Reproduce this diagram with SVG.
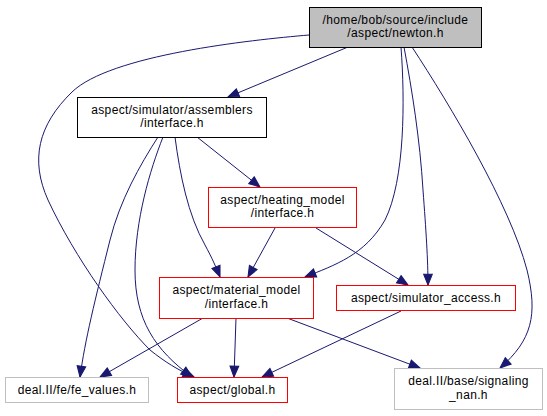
<svg xmlns="http://www.w3.org/2000/svg" width="547" height="416" viewBox="0 0 547 416">
<style>
.n rect{stroke-width:1}
.root rect{fill:#bfbfbf;stroke:#000}
.blk rect{fill:#fff;stroke:#000}
.red rect{fill:#fff;stroke:#ff0000}
.gry rect{fill:#fff;stroke:#bfbfbf}
text{font-family:"Liberation Sans",Arial,sans-serif;font-size:12px;letter-spacing:0.35px;text-anchor:middle;fill:#000}
.e path{fill:none;stroke:#191970;stroke-width:1;marker-end:url(#ah)}
</style>
<defs>
<marker id="ah" markerUnits="userSpaceOnUse" markerWidth="13" markerHeight="11" viewBox="-1 -5 12 10" refX="10" refY="0" orient="auto">
<path d="M0,-4 L10,0 L0,4 z" fill="#191970" stroke="#191970" stroke-width="1"/>
</marker>
</defs>
<g id="edges" class="e">
<path d="M348,47 L228,97"/>
<path d="M309,35 C250,40 110,55 72,92 C38,125 30,160 48,200 C75,258 120,320 150,350 C165,362 178,370 194,377"/>
<path d="M401,47 C405,100 405,180 385,220 C365,255 335,265 305,277"/>
<path d="M404,47 C412,90 420,140 423,190 C426,230 428,260 428,285"/>
<path d="M412,47 C450,105 510,205 527,270 C538,315 532,340 500,368"/>
<path d="M158,137 C140,165 120,200 110,240 C95,300 85,340 80,377"/>
<path d="M163,137 C150,170 135,220 135,270 C135,320 155,350 192,377"/>
<path d="M175,137 C180,175 188,215 205,245 C212,258 216,267 220,277"/>
<path d="M197,137 L260,187"/>
<path d="M275,228 L248,277"/>
<path d="M316,228 L408,285"/>
<path d="M203,318 L100,377"/>
<path d="M236,318 L234,377"/>
<path d="M287,318 L420,368"/>
<path d="M401,311 L262,377"/>
</g>
<g id="newton" class="n root"><rect x="309.5" y="7.5" width="172" height="40"/><text x="395.5" y="23.5">/home/bob/source/include</text><text x="395.5" y="37">/aspect/newton.h</text></g>
<g id="assemblers" class="n blk"><rect x="77.5" y="97.5" width="189" height="40"/><text x="172" y="113.5">aspect/simulator/assemblers</text><text x="172" y="127">/interface.h</text></g>
<g id="heating_model" class="n red"><rect x="208.5" y="187.5" width="148" height="40"/><text x="282.5" y="203.5">aspect/heating_model</text><text x="282.5" y="217">/interface.h</text></g>
<g id="material_model" class="n red"><rect x="159.5" y="277.5" width="154" height="41"/><text x="236.5" y="294">aspect/material_model</text><text x="236.5" y="307.5">/interface.h</text></g>
<g id="simulator_access" class="n red"><rect x="336.5" y="285.5" width="179" height="25"/><text x="426" y="302">aspect/simulator_access.h</text></g>
<g id="fe_values" class="n gry"><rect x="5.5" y="377.5" width="143" height="25"/><text x="77" y="394">deal.II/fe/fe_values.h</text></g>
<g id="global" class="n red"><rect x="177.5" y="377.5" width="110" height="25"/><text x="232.5" y="394">aspect/global.h</text></g>
<g id="signaling_nan" class="n gry"><rect x="394.5" y="368.5" width="148" height="41"/><text x="468.5" y="385">deal.II/base/signaling</text><text x="468.5" y="398.5">_nan.h</text></g>
</svg>
